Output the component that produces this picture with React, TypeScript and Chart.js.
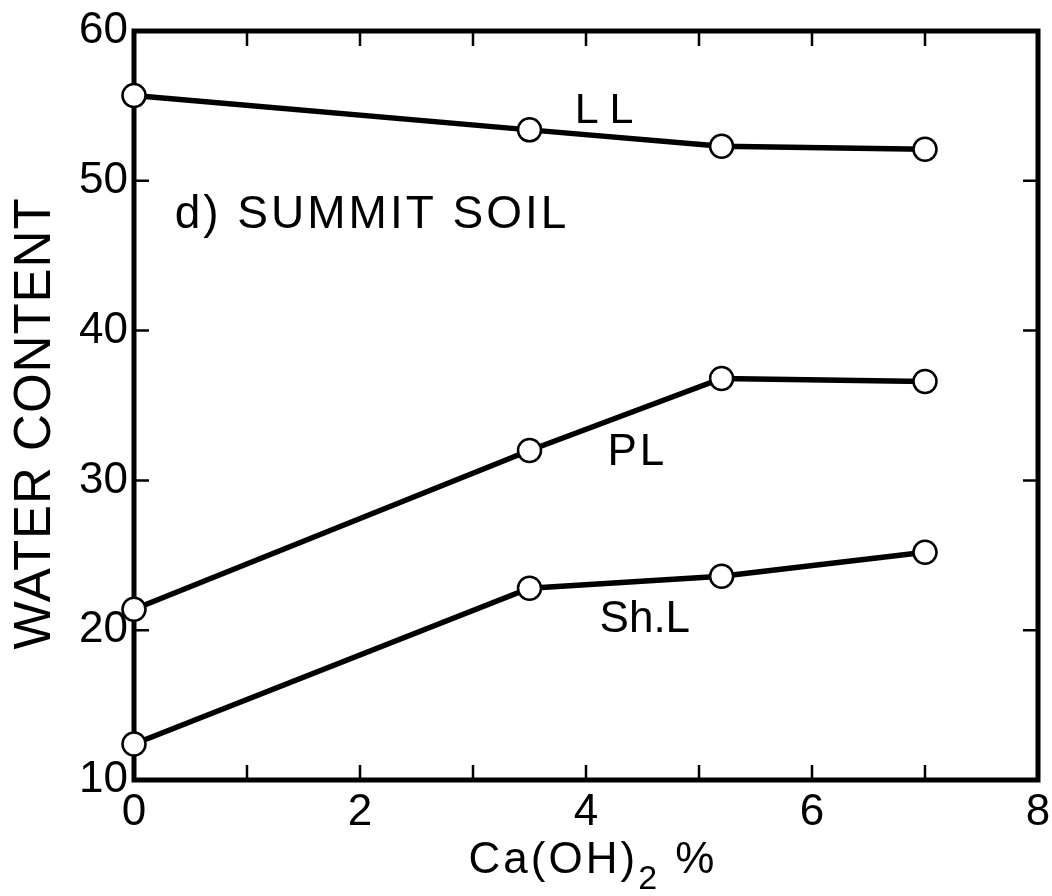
import React, { useEffect, useRef } from "react";
import { Chart, registerables } from "chart.js";

Chart.register(...registerables);

const caPercent = [0, 3.5, 5.2, 7];
const liquidLimit = [55.7, 53.4, 52.3, 52.1];
const plasticLimit = [21.4, 32.0, 36.8, 36.6];
const shrinkageLimit = [12.4, 22.8, 23.6, 25.2];

const xTickValues = [0, 2, 4, 6, 8];
const yTickValues = [10, 20, 30, 40, 50, 60];

const FONT = "'Liberation Sans', Arial, sans-serif";

const toPoints = (ys: number[]) => caPercent.map((x, i) => ({ x, y: ys[i] }));

const framePlugin = {
  id: "frame",
  beforeDatasetsDraw(chart: any) {
    const { ctx, chartArea } = chart;
    const xs = chart.scales.x;
    const ys = chart.scales.y;
    ctx.save();
    ctx.strokeStyle = "#000";
    ctx.lineWidth = 2.5;
    const tl = 15;
    for (let v = 1; v < 8; v++) {
      const px = xs.getPixelForValue(v);
      ctx.beginPath();
      ctx.moveTo(px, chartArea.bottom);
      ctx.lineTo(px, chartArea.bottom - tl);
      ctx.moveTo(px, chartArea.top);
      ctx.lineTo(px, chartArea.top + tl);
      ctx.stroke();
    }
    for (let v = 20; v < 60; v += 10) {
      const py = ys.getPixelForValue(v);
      ctx.beginPath();
      ctx.moveTo(chartArea.left, py);
      ctx.lineTo(chartArea.left + tl, py);
      ctx.moveTo(chartArea.right, py);
      ctx.lineTo(chartArea.right - tl, py);
      ctx.stroke();
    }
    ctx.lineWidth = 5;
    ctx.lineJoin = "miter";
    ctx.strokeRect(
      chartArea.left,
      chartArea.top,
      chartArea.right - chartArea.left,
      chartArea.bottom - chartArea.top
    );
    ctx.restore();
  },
  afterDatasetsDraw(chart: any) {
    const { ctx, chartArea } = chart;
    const xs = chart.scales.x;
    const ys = chart.scales.y;
    const label = (text: string, x: number, y: number, size: number, spacing: number) => {
      ctx.font = `${size}px ${FONT}`;
      (ctx as any).letterSpacing = `${spacing}px`;
      ctx.fillText(text, xs.getPixelForValue(x), ys.getPixelForValue(y));
    };
    ctx.save();
    ctx.fillStyle = "#000";
    ctx.textAlign = "left";
    ctx.textBaseline = "alphabetic";
    label("LL", 3.9, 53.86, 43, 11);
    label("d) SUMMIT SOIL", 0.36, 46.85, 46, 3);
    label("PL", 4.19, 31.03, 44, 3);
    label("Sh.L", 4.12, 19.88, 44, 0);

    // x axis title with subscript
    const base = chartArea.bottom + 93;
    ctx.font = `44px ${FONT}`;
    (ctx as any).letterSpacing = "3px";
    const p1 = "Ca(OH)";
    const p3 = " %";
    const w1 = ctx.measureText(p1).width;
    ctx.font = `34px ${FONT}`;
    const w2 = ctx.measureText("2").width;
    ctx.font = `44px ${FONT}`;
    const w3 = ctx.measureText(p3).width;
    const total = w1 + w2 + w3;
    let x0 = (chartArea.left + chartArea.right) / 2 + 7 - total / 2;
    ctx.fillText(p1, x0, base);
    x0 += w1;
    ctx.font = `34px ${FONT}`;
    ctx.fillText("2", x0, base + 16);
    x0 += w2;
    ctx.font = `44px ${FONT}`;
    ctx.fillText(p3, x0, base);

    // y axis title, rotated
    ctx.save();
    ctx.translate(50, (chartArea.top + chartArea.bottom) / 2 + 18);
    ctx.rotate(-Math.PI / 2);
    ctx.textAlign = "center";
    ctx.textBaseline = "alphabetic";
    ctx.font = `51px ${FONT}`;
    (ctx as any).letterSpacing = "1px";
    ctx.fillText("WATER CONTENT", 0, 0);
    ctx.restore();

    ctx.restore();
  },
};

export default function App() {
  const canvasRef = useRef<HTMLCanvasElement | null>(null);

  useEffect(() => {
    if (!canvasRef.current) return;
    const ds = (label: string, ys: number[]) => ({
      label,
      data: toPoints(ys),
      showLine: true,
      borderColor: "#000",
      borderWidth: 5.5,
      pointRadius: 11.5,
      pointHoverRadius: 11.5,
      pointBorderWidth: 2.5,
      pointBackgroundColor: "#fff",
      pointBorderColor: "#000",
      clip: false as any,
      tension: 0,
    });
    const chart = new Chart(canvasRef.current, {
      type: "scatter",
      data: {
        datasets: [
          ds("LL", liquidLimit),
          ds("PL", plasticLimit),
          ds("Sh.L", shrinkageLimit),
        ],
      },
      options: {
        animation: false,
        responsive: false,
        layout: { padding: { top: 31, right: 9, left: 0, bottom: 0 } },
        plugins: {
          legend: { display: false },
          tooltip: { enabled: false },
        },
        scales: {
          x: {
            type: "linear",
            min: 0,
            max: 8,
            afterBuildTicks: (scale: any) => {
              scale.ticks = xTickValues.map((v) => ({ value: v }));
            },
            ticks: {
              color: "#000",
              font: { size: 44, family: FONT },
              padding: 6,
              maxRotation: 0,
              autoSkip: false,
              callback: (v: any) => String(v),
            },
            grid: { display: false, drawTicks: false },
            border: { display: false },
            afterFit: (scale: any) => {
              scale.height = 116;
              scale.paddingLeft = 0;
              scale.paddingRight = 0;
            },
          },
          y: {
            type: "linear",
            min: 10,
            max: 60,
            afterBuildTicks: (scale: any) => {
              scale.ticks = yTickValues.map((v) => ({ value: v }));
            },
            ticks: {
              color: "#000",
              font: { size: 44, family: FONT },
              padding: 6,
              autoSkip: false,
              callback: (v: any) => String(v),
            },
            grid: { display: false, drawTicks: false },
            border: { display: false },
            afterFit: (scale: any) => {
              scale.width = 134;
              scale.paddingTop = 0;
              scale.paddingBottom = 0;
            },
          },
        },
      },
      plugins: [framePlugin],
    });
    return () => chart.destroy();
  }, []);

  return (
    <div style={{ position: "absolute", left: 0, top: 0, width: 1052, height: 896, background: "#fff" }}>
      <canvas ref={canvasRef} width={1052} height={896} style={{ display: "block" }} />
    </div>
  );
}
